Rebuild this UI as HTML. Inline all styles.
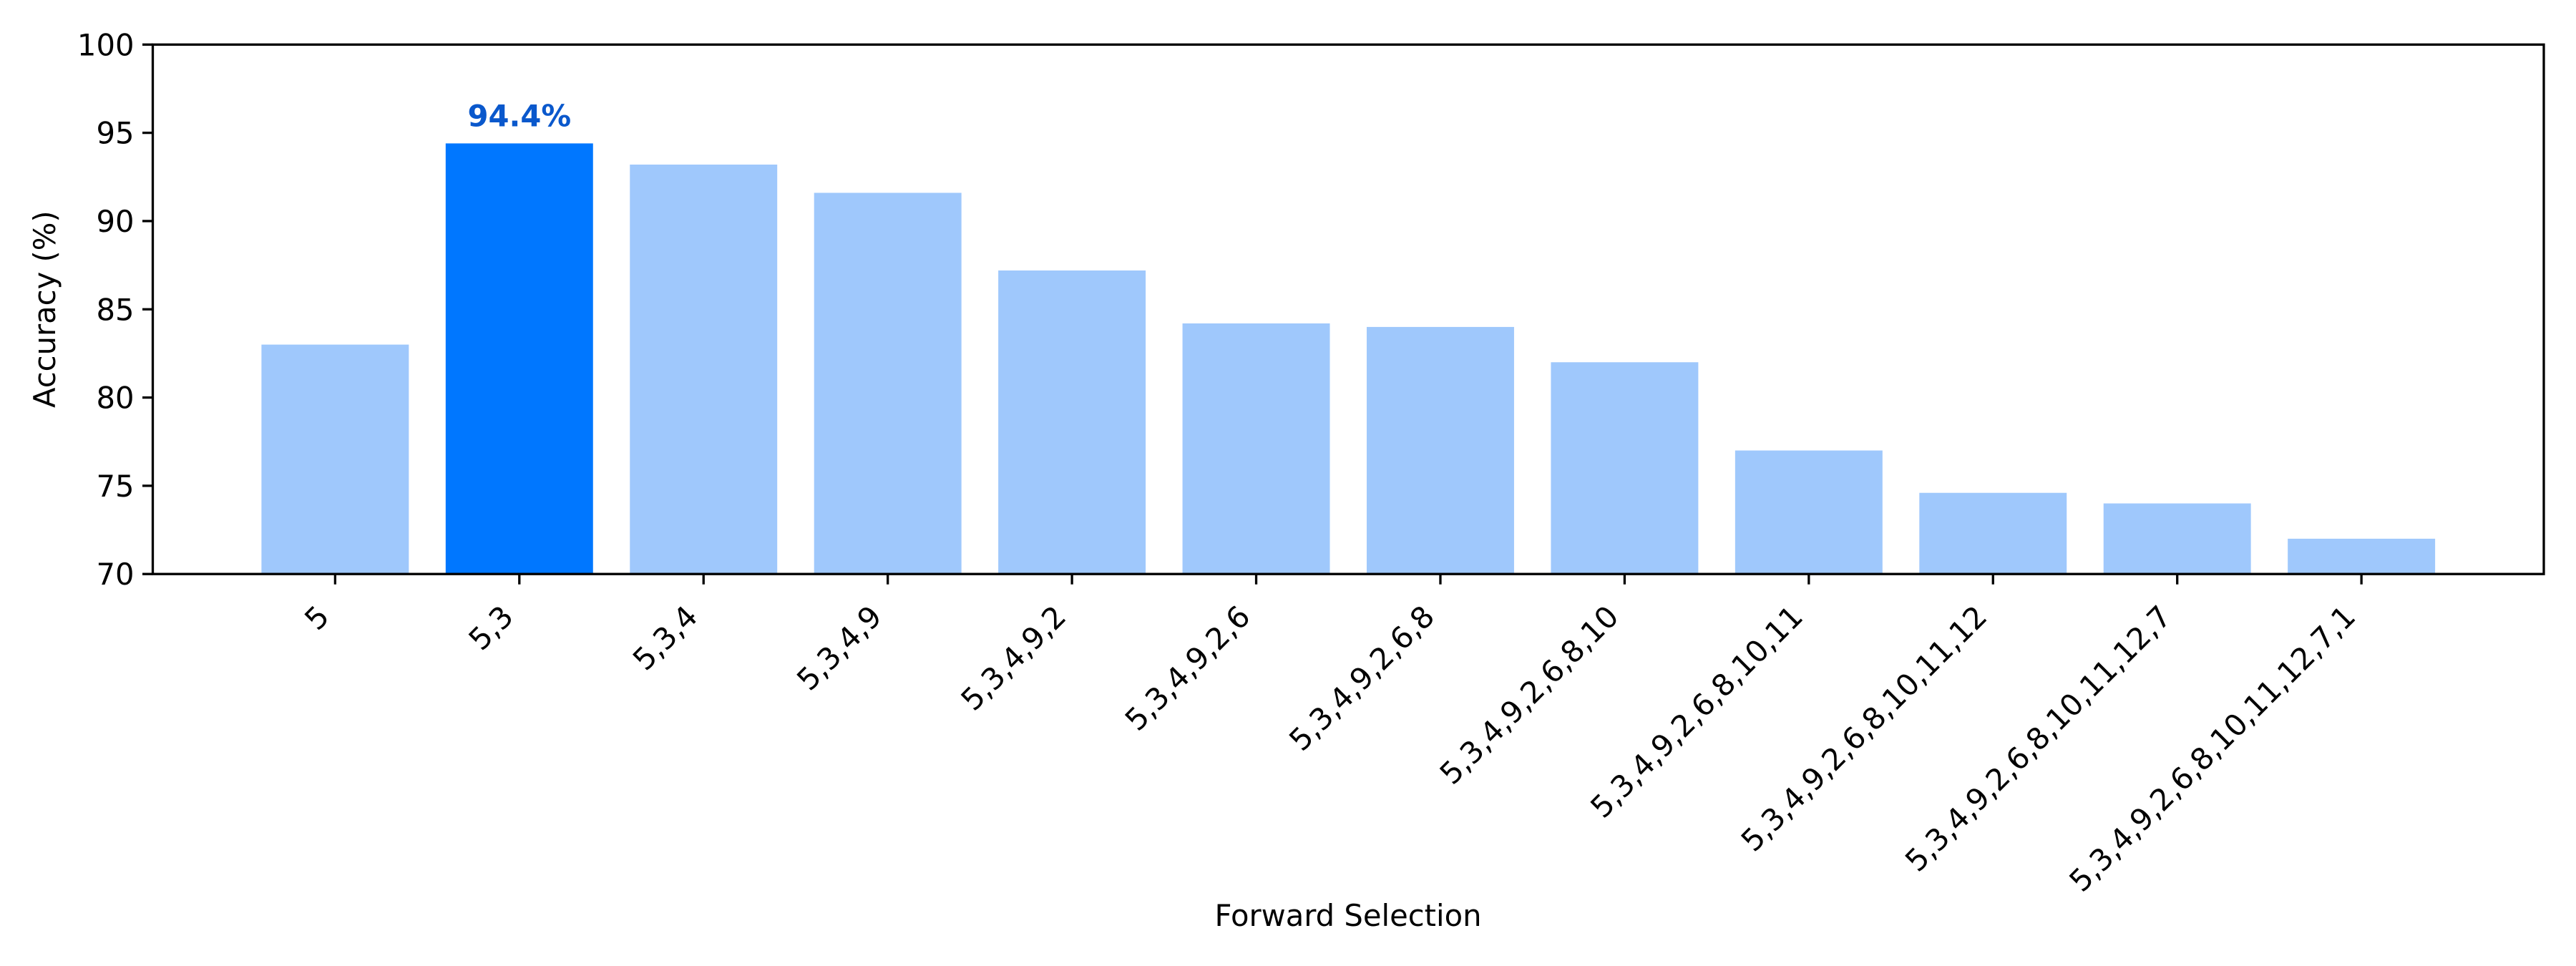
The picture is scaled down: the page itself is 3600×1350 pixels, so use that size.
<!DOCTYPE html>
<html><head><meta charset="utf-8"><style>
html,body{margin:0;padding:0;background:#fff;}
svg{display:block;}
text{font-family:"DejaVu Sans","Liberation Sans",sans-serif;fill:#000;}
</style></head><body>
<svg id="chart" width="3600" height="1350" viewBox="0 0 3600 1350" xmlns="http://www.w3.org/2000/svg">
<g id="bars"></g>
<g id="xticks"></g>
<g id="yticks"></g>
<rect x="213.5" y="62.3" width="3341.5" height="739.9" fill="none" stroke="#000" stroke-width="3.3"/>
<text x="0" y="0" font-size="41.7" text-anchor="middle" transform="translate(77,432.2) rotate(-90)">Accuracy (%)</text>
<text x="1884" y="1294" font-size="41.7" text-anchor="middle">Forward Selection</text>
</svg>
<script>
const categories = ["5","5,3","5,3,4","5,3,4,9","5,3,4,9,2","5,3,4,9,2,6","5,3,4,9,2,6,8","5,3,4,9,2,6,8,10","5,3,4,9,2,6,8,10,11","5,3,4,9,2,6,8,10,11,12","5,3,4,9,2,6,8,10,11,12,7","5,3,4,9,2,6,8,10,11,12,7,1"];
const accuracy = [83.0, 94.4, 93.2, 91.6, 87.2, 84.2, 84.0, 82.0, 77.0, 74.6, 74.0, 72.0];
const yTicks = [70, 75, 80, 85, 90, 95, 100];
const highlightIndex = 1;

const NS = "http://www.w3.org/2000/svg";
const axL = 213.5, axR = 3555, axT = 62.3, axB = 802.2;
const xMin = -0.99, xMax = 11.99, yMin = 70, yMax = 100;
function xs(v){ return axL + (v - xMin) / (xMax - xMin) * (axR - axL); }
function ys(v){ return axB - (v - yMin) / (yMax - yMin) * (axB - axT); }
function mk(tag, attrs, parent){ const e = document.createElementNS(NS, tag); for (const k in attrs) e.setAttribute(k, attrs[k]); parent.appendChild(e); return e; }

const barsG = document.getElementById('bars');
const xt = document.getElementById('xticks');
const yt = document.getElementById('yticks');
const bw = 0.8;
categories.forEach((c, i) => {
  const x0 = xs(i - bw/2), x1 = xs(i + bw/2);
  const r = mk('rect', {x: x0, y: ys(accuracy[i]), width: x1 - x0, height: axB - ys(accuracy[i]), fill: i === highlightIndex ? '#0077ff' : '#9fc8fc'}, barsG);
  
  
  const tx = xs(i);
  const tk = mk('line', {x1: tx, x2: tx, y1: axB, y2: axB + 14.5, stroke: '#000', 'stroke-width': 3.3}, xt);
  
  
  const ex = tx - 6, ey = axB + 62;
  const t = mk('text', {x: 0, y: 0, 'font-size': 41.7, 'text-anchor': 'end', transform: 'translate(' + ex + ',' + ey + ') rotate(-45)'}, xt);
  t.textContent = c;
  
  
});
const hv = accuracy[highlightIndex];
const lab = mk('text', {x: xs(highlightIndex), y: ys(hv) - 24, 'font-size': 41.7, 'font-weight': 'bold', 'text-anchor': 'middle', style: 'fill:#0a58cc'}, barsG);
lab.textContent = hv.toFixed(1) + '%';



yTicks.forEach(v => {
  const y = ys(v);
  const tk = mk('line', {x1: axL - 14.5, x2: axL, y1: y, y2: y, stroke: '#000', 'stroke-width': 3.3}, yt);
  
  
  const t = mk('text', {x: axL - 26, y: y + 15, 'font-size': 41.7, 'text-anchor': 'end'}, yt);
  t.textContent = v;
  
  
});
</script>
</body></html>
